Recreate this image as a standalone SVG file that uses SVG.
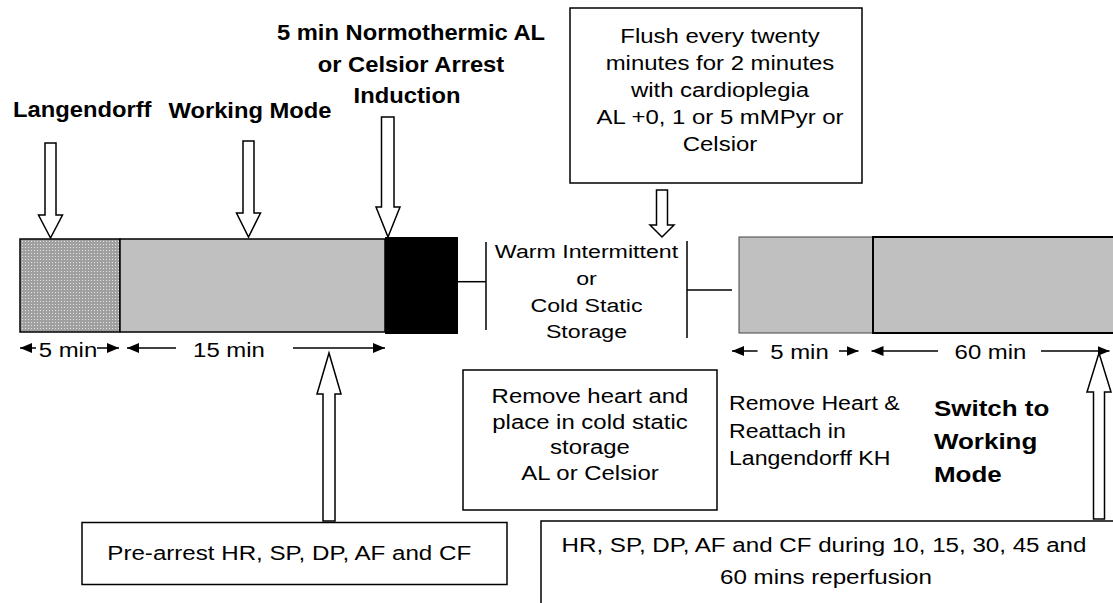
<svg xmlns="http://www.w3.org/2000/svg" width="1113" height="603" viewBox="0 0 1113 603">
<style>
text{font-family:"Liberation Sans",Arial,sans-serif;fill:#000}
.b{font-weight:bold;font-size:22px}
.r{font-size:21px}
.s{font-size:19px}
.box{fill:#fff;stroke:#000;stroke-width:1.5}
.blk{fill:#fff;stroke:#000;stroke-width:1.5;stroke-linejoin:miter}
.ln{stroke:#000;stroke-width:1.5;fill:none}
.dim{stroke:#000;stroke-width:1.5;fill:none;marker-end:url(#ah)}
</style>
<defs>
<pattern id="stip" width="3" height="3" patternUnits="userSpaceOnUse">
<rect width="3" height="3" fill="#a0a0a0"/>
<rect x="1" y="1" width="1" height="1" fill="#e2e2e2"/>
</pattern>
<marker id="ah" viewBox="0 0 12 10" refX="12" refY="5" markerWidth="12" markerHeight="10" markerUnits="userSpaceOnUse" orient="auto">
<path d="M0,0 L12,5 L0,10 z" fill="#000"/>
</marker>
</defs>
<rect width="1113" height="603" fill="#fff"/>

<g id="timeline-pre">
<rect x="20" y="239" width="100" height="93" fill="url(#stip)" stroke="#000" stroke-width="1.5"/>
<rect x="120" y="239" width="265" height="93" fill="#c0c0c0" stroke="#000" stroke-width="1.5"/>
<rect x="385" y="237" width="73" height="97" fill="#000"/>
</g>

<g id="timeline-post">
<rect x="739" y="237" width="134" height="96" fill="#c0c0c0" stroke="#444" stroke-width="1"/>
<rect x="873" y="237" width="250" height="96" fill="#c0c0c0" stroke="#000" stroke-width="2"/>
</g>

<g id="label-langendorff">
<text class="b" transform="translate(13,117) scale(1.08,1)">Langendorff</text>
</g>
<g id="label-working">
<text class="b" text-anchor="middle" transform="translate(250,118) scale(1.08,1)">Working Mode</text>
</g>
<g id="label-arrest">
<text class="b" text-anchor="middle" transform="translate(411,40) scale(1.08,1)">5 min Normothermic AL</text>
<text class="b" text-anchor="middle" transform="translate(411,71.5) scale(1.08,1)">or Celsior Arrest</text>
<text class="b" text-anchor="middle" transform="translate(407,103) scale(1.08,1)">Induction</text>
</g>

<g id="flush-box">
<rect class="box" x="570" y="8" width="292" height="175"/>
<g class="r" text-anchor="middle">
<text transform="translate(720,42.5) scale(1.14,1)">Flush every twenty</text>
<text transform="translate(720,69.5) scale(1.14,1)">minutes for 2 minutes</text>
<text transform="translate(720,96.5) scale(1.14,1)">with cardioplegia</text>
<text transform="translate(720,123.5) scale(1.14,1)">AL +0, 1 or 5 mMPyr or</text>
<text transform="translate(720,150.5) scale(1.14,1)">Celsior</text>
</g>
</g>

<g id="storage">
<g class="s" text-anchor="middle">
<text transform="translate(586.5,258) scale(1.22,1)">Warm Intermittent</text>
<text transform="translate(586.5,285) scale(1.22,1)">or</text>
<text transform="translate(586.5,311.5) scale(1.22,1)">Cold Static</text>
<text transform="translate(586.5,338) scale(1.22,1)">Storage</text>
</g>
</g>

<g id="remove-box">
<rect class="box" x="463" y="370" width="254" height="140"/>
<g class="r" text-anchor="middle">
<text transform="translate(590,402.7) scale(1.14,1)">Remove heart and</text>
<text transform="translate(590,428.5) scale(1.14,1)">place in cold static</text>
<text transform="translate(590,454.3) scale(1.14,1)">storage</text>
<text transform="translate(590,480) scale(1.14,1)">AL or Celsior</text>
</g>
</g>

<g id="reattach">
<g class="r">
<text transform="translate(729,410) scale(1.1,1)">Remove Heart &amp;</text>
<text transform="translate(729,437.5) scale(1.1,1)">Reattach in</text>
<text transform="translate(729,465) scale(1.1,1)">Langendorff KH</text>
</g>
</g>

<g id="switch">
<g class="b">
<text transform="translate(934,416) scale(1.18,1)">Switch to</text>
<text transform="translate(934,449) scale(1.18,1)">Working</text>
<text transform="translate(934,482) scale(1.18,1)">Mode</text>
</g>
</g>

<g id="prearrest-box">
<rect class="box" x="82" y="522.5" width="425" height="62"/>
<text class="r" transform="translate(107.3,560) scale(1.15,1)">Pre-arrest HR, SP, DP, AF and CF</text>
</g>

<g id="reperfusion-box">
<rect class="box" x="541" y="521" width="590" height="100"/>
<g class="r" text-anchor="middle">
<text transform="translate(824,552) scale(1.15,1)">HR, SP, DP, AF and CF during 10, 15, 30, 45 and</text>
<text transform="translate(826,584) scale(1.15,1)">60 mins reperfusion</text>
</g>
</g>

<g id="durations">
<g class="r" text-anchor="middle">
<text transform="translate(68,356.7) scale(1.14,1)">5 min</text>
<text transform="translate(229,356.7) scale(1.14,1)">15 min</text>
<text transform="translate(799.5,359) scale(1.14,1)">5 min</text>
<text transform="translate(990.5,359) scale(1.14,1)">60 min</text>
</g>
</g>

<g id="connectors">
<polygon class="blk" points="45,143 56,143 56,215 62.5,215 50.5,238 38.5,215 45,215"/>
<polygon class="blk" points="243,141 254,141 254,213 260.5,213 248.5,237 236.5,213 243,213"/>
<polygon class="blk" points="381.5,117 394,117 394,207 400,207 388,237 376,207 381.5,207"/>
<polygon class="blk" points="656.5,190 667.5,190 667.5,225 674,225 662,237 650,225 656.5,225"/>
<polygon class="blk" points="323,521 335,521 335,394 341,394 329,353 317,394 323,394"/>
<polygon class="blk" points="1093.5,519 1104.5,519 1104.5,392 1111,392 1099,353 1087,392 1093.5,392"/>
<line class="ln" x1="458" y1="281.7" x2="486" y2="281.7"/>
<line class="ln" x1="486" y1="242" x2="486" y2="330"/>
<line class="ln" x1="687" y1="241" x2="687" y2="338"/>
<line class="ln" x1="687" y1="290" x2="732" y2="290"/>
<line class="dim" x1="36" y1="348" x2="20" y2="348"/>
<line class="dim" x1="97" y1="348" x2="119" y2="348"/>
<line class="dim" x1="176" y1="348" x2="127" y2="348"/>
<line class="dim" x1="293" y1="348" x2="385" y2="348"/>
<line class="dim" x1="757.6" y1="351" x2="732" y2="351"/>
<line class="dim" x1="839" y1="351" x2="858.5" y2="351"/>
<line class="dim" x1="938" y1="351" x2="871.5" y2="351"/>
<line class="dim" x1="1041" y1="351" x2="1109.5" y2="351"/>
</g>
</svg>
